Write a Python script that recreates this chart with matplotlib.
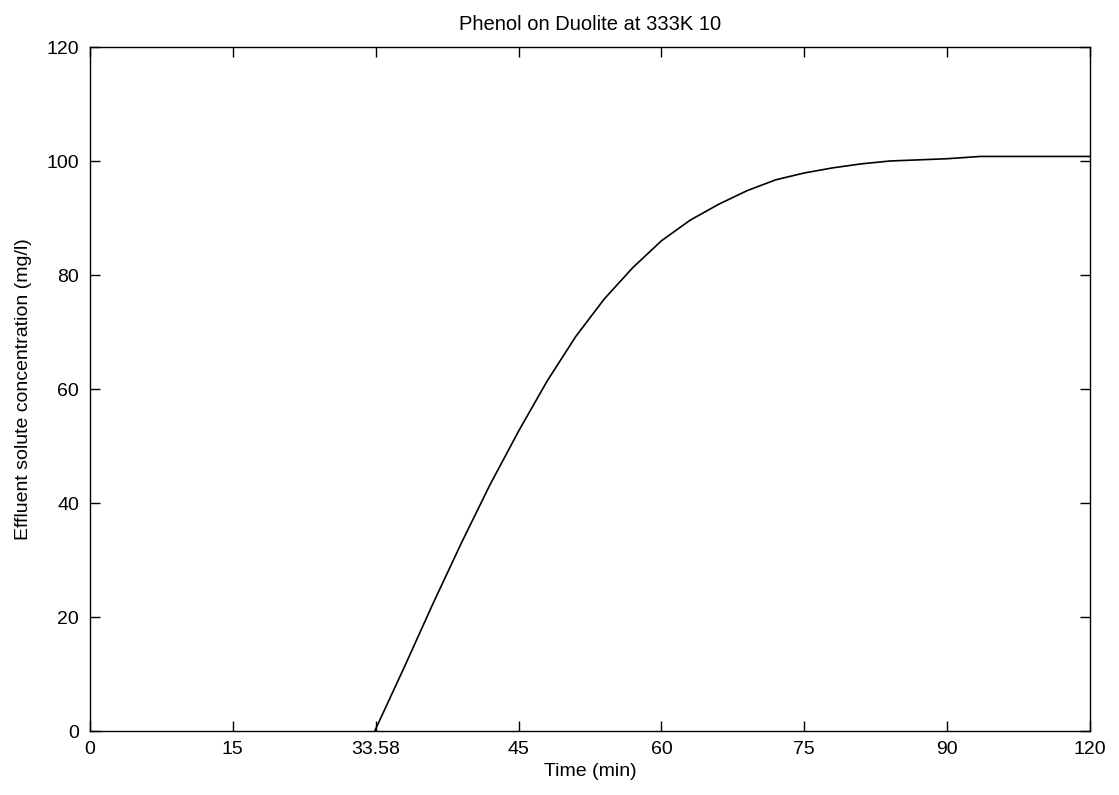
import numpy as np
import matplotlib.pyplot as plt

plt.rcParams['font.family'] = ['Liberation Sans', 'DejaVu Sans']

# Breakthrough curve (axis units, min / mg/l)
t = np.array([29.9, 33.0, 36.0, 39.0, 42.0, 45.0, 48.0, 51.0, 54.0, 57.0,
              60.0, 63.0, 66.0, 69.0, 72.0, 75.0, 78.0, 81.0, 84.0, 87.0,
              90.0, 93.5, 105.0])
c = np.array([0.0, 11.2, 22.3, 33.0, 43.2, 52.6, 61.4, 69.2, 75.8, 81.3,
              86.0, 89.6, 92.4, 94.8, 96.7, 97.9, 98.8, 99.5, 100.0, 100.2,
              100.4, 100.8, 100.8])

# tick positions and the labels printed on them
x_ticks = [0, 15, 30, 45, 60, 75, 90, 105]
x_labels = ["0", "15", "33.58", "45", "60", "75", "90", "120"]
y_ticks = [0, 20, 40, 60, 80, 100, 120]

fig = plt.figure(figsize=(11.19, 7.95), dpi=100)
ax = fig.add_axes([90 / 1119, 64 / 795, 1000 / 1119, 684 / 795])

ax.plot(t, c, color="black", linewidth=1.2)

ax.set_xlim(0, 105)
ax.set_ylim(0, 120)
ax.set_xticks(x_ticks)
ax.set_xticklabels(x_labels)
ax.set_yticks(y_ticks)
ax.tick_params(direction="in", length=7, width=1, top=True, right=True,
               labelsize=14)
ax.tick_params(axis="x", pad=7)
ax.tick_params(axis="y", pad=8)
for s in ax.spines.values():
    s.set_linewidth(1)

ax.set_xlabel("Time (min)", fontsize=14, labelpad=4)
ax.set_ylabel("Effluent solute concentration (mg/l)", fontsize=14, labelpad=10)
ax.set_title("Phenol on Duolite at 333K 10", fontsize=14.5, pad=12)

fig.savefig("out.png", dpi=100)
